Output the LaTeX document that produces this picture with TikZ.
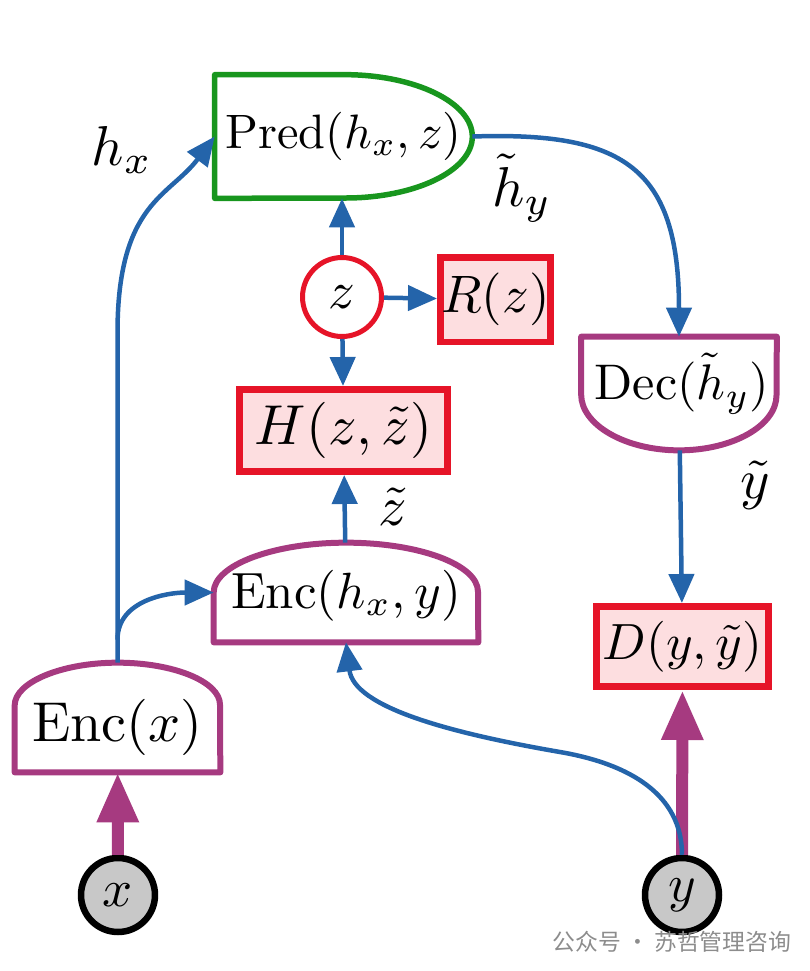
\documentclass[tikz,border=0pt]{standalone}
\usepackage{graphicx}
\usepackage{fontspec}
\newfontfamily\cjk{Noto Sans CJK SC}
\usepackage{tikz}
\usetikzlibrary{arrows.meta}
\definecolor{linkblue}{RGB}{36,100,170}
\definecolor{encpurple}{RGB}{166,58,128}
\definecolor{predgreen}{RGB}{24,150,30}
\definecolor{lossred}{RGB}{230,20,40}
\definecolor{losspink}{RGB}{253,222,224}
\definecolor{obsgray}{RGB}{200,200,200}

\begin{document}
\begin{tikzpicture}[x=0.02cm, y=-0.02cm,
    shapebox/.style={rectangle, inner sep=0pt},
    lossbox/.style={rectangle, draw=lossred, fill=losspink, line width=0.14cm, inner sep=0pt},
    encline/.style={draw=encpurple, line width=0.12cm, line join=round},
    link/.style={draw=linkblue, line width=0.09cm, -{Triangle[length=0.58cm,width=0.5cm]}},
    feed/.style={draw=encpurple, line width=0.24cm, -{Triangle[length=1.0cm,width=0.78cm]}},
    obs/.style={circle, draw=black, fill=obsgray, line width=0.13cm, minimum size=1.48cm, inner sep=0pt}]

\useasboundingbox (0,0) rectangle (809,971);

% 1. Predictor (top)
\node[shapebox, minimum width=5.14cm, minimum height=2.46cm] (pred) at (343.5,136.5) {\scalebox{2.75}{$\mathrm{Pred}(h_x, z)$}};
\draw[draw=predgreen, line width=0.11cm, line join=round] (pred.south west) -- (pred.north west) -- ++(130,0)
    .. controls +(70,0) and +(0,-34) .. (pred.east)
    .. controls +(0,34) and +(70,0) .. ++(-127,61.5) -- cycle;

% 2. Latent and its regulariser
\node[circle, draw=lossred, fill=white, line width=0.1cm, minimum size=1.58cm, inner sep=0pt] (z) at (342,297) {\scalebox{3}{$z$}};
\node[lossbox, minimum width=2.2cm, minimum height=1.7cm] (R) at (495.5,299.5) {\scalebox{3}{$R(z)$}};
\node[lossbox, minimum width=4.16cm, minimum height=1.64cm] (H) at (343.5,430.5) {\scalebox{3.2}{$H(z,\tilde{z})$}};

% 3. Encoders and decoder
\node[shapebox, minimum width=5.28cm, minimum height=1.98cm,
      label={[yshift=-0.06cm]center:\scalebox{2.9}{$\mathrm{Enc}(h_x, y)$}}] (encxy) at (346,592.5) {};
\draw[encline] (encxy.south west) -- ++(0,-50)
    .. controls +(0,-27) and +(-73,0) .. (encxy.north)
    .. controls +(73,0) and +(0,-27) .. ++(132,49) -- (encxy.south east) -- cycle;

\node[shapebox, minimum width=4.1cm, minimum height=2.18cm,
      label={[yshift=-0.2cm]center:\scalebox{3.2}{$\mathrm{Enc}(x)$}}] (encx) at (117.5,717.5) {};
\draw[encline] (encx.south west) -- ++(0,-67)
    .. controls +(0,-23) and +(-56,0) .. (encx.north)
    .. controls +(56,0) and +(0,-23) .. ++(102.5,42) -- (encx.south east) -- cycle;

\node[shapebox, minimum width=3.9cm, minimum height=2.26cm,
      label={[yshift=0.2cm, xshift=0.06cm]center:\scalebox{2.85}{$\mathrm{Dec}(\tilde{h}_y)$}}] (dec) at (679,393.5) {};
\draw[encline] (dec.north west) -- ++(0,58)
    .. controls +(0,30) and +(-54,0) .. (dec.south)
    .. controls +(54,0) and +(0,30) .. ++(97.5,-55) -- (dec.north east) -- cycle;

\node[lossbox, minimum width=3.46cm, minimum height=1.6cm] (D) at (682.5,646.5) {\scalebox{2.9}{$D(y,\tilde{y})$}};

% 4. Observed variables
\node[obs] (x) at (118,895) {\scalebox{3}{$x$}};
\node[obs] (y) at (682,895) {\scalebox{3}{$y$}};

% 5. Connectors
\draw[feed] (x) -- (encx);
\draw[feed] (y) -- (D);

\draw[link] (encx.north) -- ++(0,-330) .. controls +(0,-130) and +(-45,60) .. (pred.west);
\draw[link] (encx.north) ++(0,-23) .. controls +(0,-40) and +(-45,0) .. (encxy.west);
\draw[link] (y.north) .. controls +(0,-60) and +(70,12) .. (560,752)
    .. controls +(-110,-19) and +(8,65) .. (encxy.south);
\draw[link] (encxy) -- (H);
\draw[link] (z) -- (H);
\draw[link] (z) -- (z |- pred.south);
\draw[link] (z) -- (R);
\draw[link] (pred.east) .. controls +(150,-5) and +(0,-170) .. (dec.north);
\draw[link] (dec) -- (D);

% 6. Labels
\node (hx) at (122,150) {\scalebox{3.2}{$h_x$}};
\node (hy) at (522,188) {\scalebox{3.2}{$\tilde{h}_y$}};
\node (zt) at (393,507) {\scalebox{3.2}{$\tilde{z}$}};
\node (yt) at (755,485) {\scalebox{3.2}{$\tilde{y}$}};

\node[text=black!45, font=\cjk\fontsize{13}{13}\selectfont] (mark) at (672,942) {公众号 · 苏哲管理咨询};

\end{tikzpicture}
\end{document}
